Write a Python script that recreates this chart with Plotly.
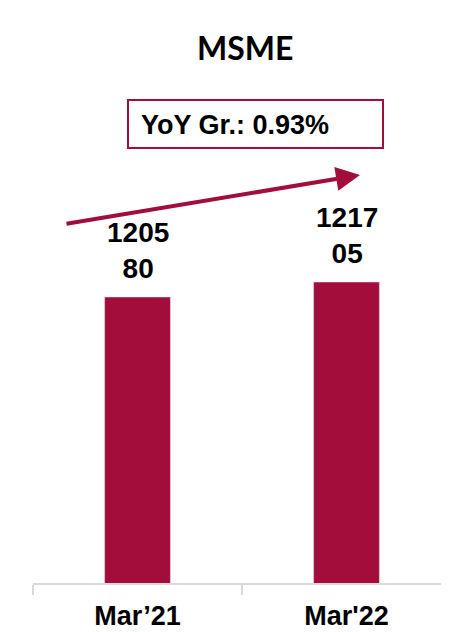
import plotly.graph_objects as go

categories = ["Mar’21", "Mar'22"]
values = [120580, 121705]
growth_label = "YoY Gr.: 0.93%"
title_text = "MSME"

bar_color = "#A20D3B"
font_main = "Liberation Sans, Arial, sans-serif"

# page shows the figure offset by the body margin
OFF = 8
W, H = 449, 632
L, R, T, B = 25, 0, 82, 57
plot_w = W - L - R
plot_h = H - T - B
UNIT = 209  # pixels per category

def px_to_paper(xp, yp):
    # xp, yp: target position in the page picture
    return (xp - OFF - L) / plot_w, (H - B - (yp - OFF)) / plot_h

def split_label(v):
    s = str(v)
    return s[:4] + "<br>" + s[4:]

fig = go.Figure()
fig.add_trace(go.Bar(
    x=categories, y=values, marker_color=bar_color, width=0.315,
    hoverinfo="skip"
))

for c, v in zip(categories, values):
    fig.add_annotation(
        x=c, y=v, xref="x", yref="y", text="<b>" + split_label(v) + "</b>",
        showarrow=False, xanchor="center", yanchor="bottom", yshift=11,
        font=dict(family=font_main, size=28, color="black"), align="center"
    )

# title
tx, ty = px_to_paper(245, 48)
fig.add_annotation(
    x=tx, y=ty, xref="paper", yref="paper", text="<b>" + title_text + "</b>",
    showarrow=False, xanchor="center", yanchor="middle",
    font=dict(family="Lato, sans-serif", size=32, color="black")
)

# YoY box
bx0, by0 = px_to_paper(128, 148)
bx1, by1 = px_to_paper(383, 100)
fig.add_shape(type="rect", xref="paper", yref="paper", x0=bx0, x1=bx1, y0=by0, y1=by1,
              line=dict(color=bar_color, width=2), fillcolor="white")
gx, gy = px_to_paper(235, 125)
fig.add_annotation(x=gx, y=gy, xref="paper", yref="paper", text="<b>" + growth_label + "</b>",
                   showarrow=False, xanchor="center", yanchor="middle",
                   font=dict(family=font_main, size=27, color="black"))

# trend arrow
ax1, ay1 = px_to_paper(360, 175)
fig.add_annotation(x=ax1, y=ay1, xref="paper", yref="paper",
                   ax=65 - 360, ay=224 - 175, text="", showarrow=True,
                   arrowhead=2, arrowsize=1.2, arrowwidth=4, arrowcolor=bar_color)

fig.update_layout(
    width=W, height=H,
    margin=dict(l=L, r=R, t=T, b=B),
    paper_bgcolor="white", plot_bgcolor="white",
    showlegend=False,
    xaxis=dict(
        range=[-0.5, -0.5 + plot_w / UNIT], showline=True, linecolor="#D9D9D9", linewidth=1.5,
        ticks="outside", tickson="boundaries", ticklen=10, tickcolor="#D9D9D9",
        tickwidth=1.5, showgrid=False, ticklabelstandoff=8,
        tickfont=dict(family=font_main, size=27, color="black"),
        tickprefix="<b>", ticksuffix="</b>",
    ),
    yaxis=dict(range=[99130, 99130 + plot_h / 0.013333], visible=False, showgrid=False),
)

fig.write_html("out.html")
